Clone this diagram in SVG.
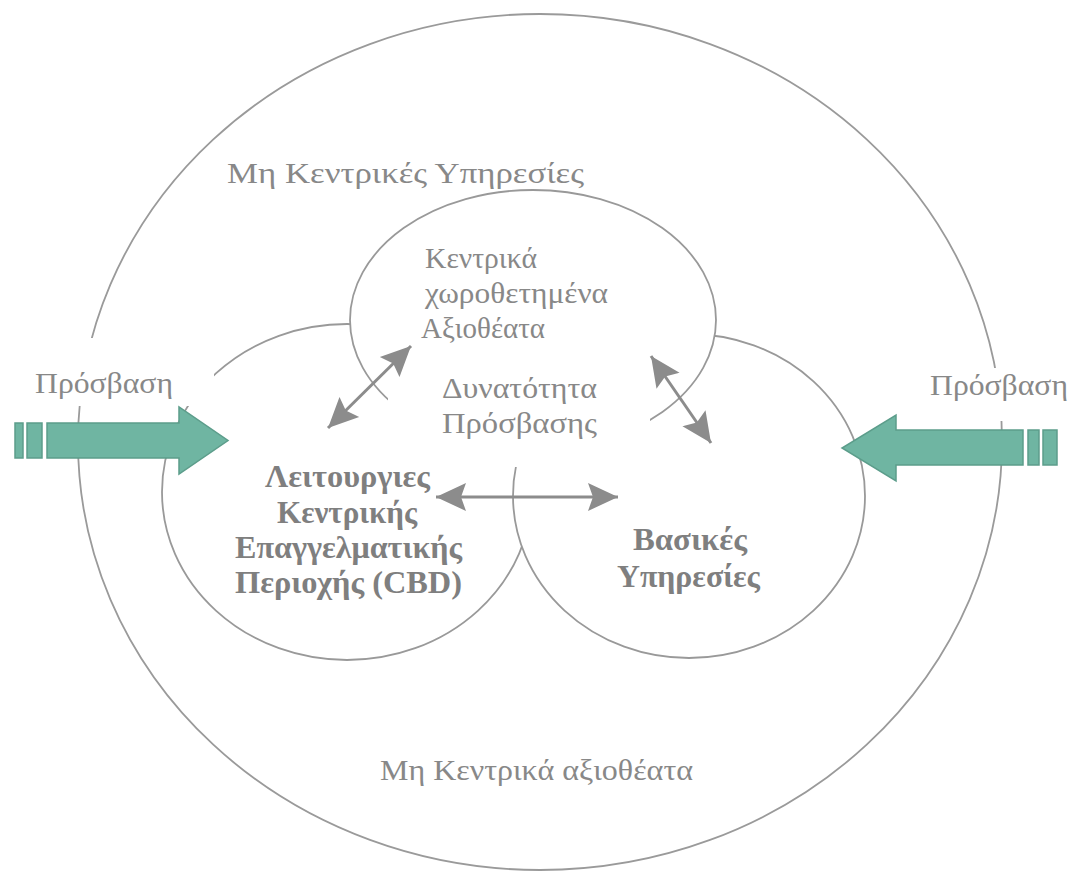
<svg xmlns="http://www.w3.org/2000/svg" width="1072" height="875" viewBox="0 0 1072 875">
<defs>
<style>
.outer{fill:none;stroke:#9a9a9a;stroke-width:1.8}
.ring{fill:#fff;stroke:#999;stroke-width:1.8}
.mask{fill:#fff}
.t{font-family:"Liberation Serif","Times New Roman",serif;font-size:30px;fill:#888}
.b{font-family:"Liberation Serif","Times New Roman",serif;font-size:31px;font-weight:bold;fill:#7f7f7f}
.conn{stroke:#8c8c8c;stroke-width:3;fill:none;marker-start:url(#ah);marker-end:url(#ah)}
.teal{fill:#6fb5a2;stroke:#5c9d8b;stroke-width:1.5}
</style>
<marker id="ah" markerUnits="userSpaceOnUse" markerWidth="32" markerHeight="30" refX="30" refY="15" orient="auto-start-reverse"><path d="M30,15 L0,1 L5,15 L0,29 Z" fill="#8c8c8c"/></marker>
</defs>
<rect width="1072" height="875" fill="#fff"/>
<g id="outer-area">
<ellipse class="outer" cx="540" cy="442" rx="462" ry="428"/>
</g>
<g id="cbd">
<ellipse class="ring" cx="347" cy="492" rx="185" ry="168"/>
</g>
<g id="basic-services">
<ellipse class="ring" cx="689" cy="496" rx="176" ry="162"/>
</g>
<g id="central-attractions">
<ellipse class="ring" cx="533" cy="320" rx="183" ry="130"/>
</g>
<g id="masks">
<rect class="mask" x="8" y="338" width="206" height="68"/>
<rect class="mask" x="905" y="368" width="167" height="53"/>
<rect class="mask" x="388" y="398" width="262" height="69"/>
</g>
<g id="labels">
<text class="t" x="227" y="183" textLength="357" lengthAdjust="spacingAndGlyphs">Μη Κεντρικές Υπηρεσίες</text>
<text class="t" x="425" y="268" textLength="112" lengthAdjust="spacingAndGlyphs">Κεντρικά</text>
<text class="t" x="425" y="303" textLength="183" lengthAdjust="spacingAndGlyphs">χωροθετημένα</text>
<text class="t" x="421" y="338" textLength="124" lengthAdjust="spacingAndGlyphs">Αξιοθέατα</text>
<text class="t" x="442" y="398" textLength="155" lengthAdjust="spacingAndGlyphs">Δυνατότητα</text>
<text class="t" x="442" y="433" textLength="155" lengthAdjust="spacingAndGlyphs">Πρόσβασης</text>
<text class="t" x="380" y="780" textLength="313" lengthAdjust="spacingAndGlyphs">Μη Κεντρικά αξιοθέατα</text>
<text class="b" x="265" y="487" textLength="165" lengthAdjust="spacingAndGlyphs">Λειτουργιες</text>
<text class="b" x="277" y="523" textLength="140" lengthAdjust="spacingAndGlyphs">Κεντρικής</text>
<text class="b" x="235" y="558" textLength="227" lengthAdjust="spacingAndGlyphs">Επαγγελματικής</text>
<text class="b" x="235" y="593" textLength="227" lengthAdjust="spacingAndGlyphs">Περιοχής (CBD)</text>
<text class="b" x="633" y="550" textLength="114" lengthAdjust="spacingAndGlyphs">Βασικές</text>
<text class="b" x="617" y="587" textLength="143" lengthAdjust="spacingAndGlyphs">Υπηρεσίες</text>
</g>
<g id="connectors">
<line class="conn" x1="328" y1="428" x2="411" y2="346"/>
<line class="conn" x1="651" y1="356" x2="711" y2="443"/>
<line class="conn" x1="436" y1="497" x2="618" y2="497"/>
</g>
<g id="access-left">
<text class="t" x="35" y="393" textLength="138" lengthAdjust="spacingAndGlyphs">Πρόσβαση</text>
<rect class="teal" x="15" y="423" width="8" height="35"/>
<rect class="teal" x="27" y="423" width="15" height="35"/>
<path class="teal" d="M47,423 L179,423 L179,407 L228,440.5 L179,474 L179,458 L47,458 Z"/>
</g>
<g id="access-right">
<text class="t" x="930" y="395" textLength="138" lengthAdjust="spacingAndGlyphs">Πρόσβαση</text>
<rect class="teal" x="1043" y="430" width="14" height="35"/>
<rect class="teal" x="1028" y="430" width="11" height="35"/>
<path class="teal" d="M1023,430 L896,430 L896,415 L842,448 L896,481 L896,465 L1023,465 Z"/>
</g>
</svg>
